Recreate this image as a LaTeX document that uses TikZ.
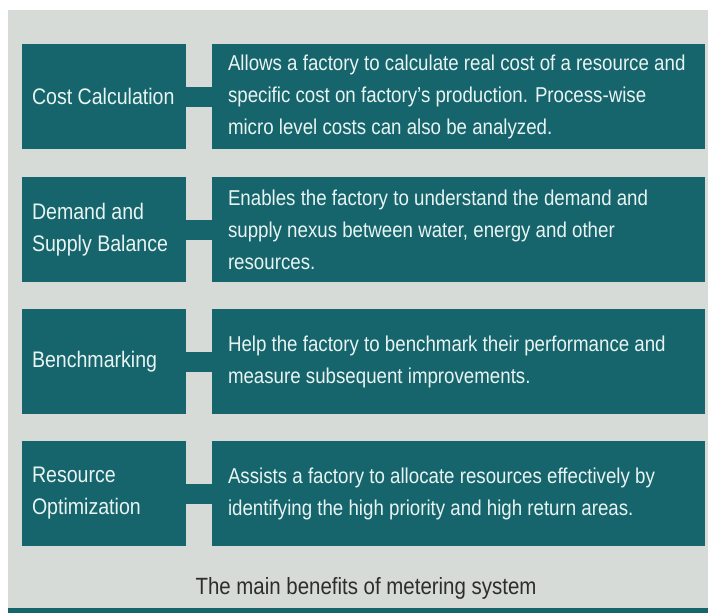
\documentclass[tikz,border=0pt]{standalone}
\usepackage{fontspec}
\setmainfont{Liberation Sans}[FakeStretch=0.87]
\usepackage{xcolor}
\definecolor{boxteal}{RGB}{22,101,108}
\definecolor{panelgray}{RGB}{214,219,215}
\definecolor{boxtext}{RGB}{232,244,242}
\definecolor{captext}{RGB}{45,45,45}

\begin{document}
\begin{tikzpicture}[x=1pt,y=-1pt,
		head/.style={fill=boxteal,text=boxtext,minimum height=105pt,text width=144pt,inner xsep=10pt,align=flush left,font=\fontsize{22.5}{32}\selectfont},
		info/.style={fill=boxteal,text=boxtext,minimum height=105pt,text width=461pt,inner xsep=16pt,align=flush left,font=\fontsize{21.5}{32}\selectfont},
		link/.style={boxteal,line width=20pt}]
		\useasboundingbox (0,0) rectangle (708,613);
		\fill[panelgray] (8,10) rectangle (708,613);
		\fill[boxteal] (8,608) rectangle (708,613);

		\node[head] at (104,96.5)(cost){Cost Calculation};
		\node[info] at (458.5,96.5)(costtxt){Allows a factory to calculate real cost of a resource and\\specific cost on factory’s production. Process-wise\\micro level costs can also be analyzed.};

		\node[head] at (104,229.5)(demand){Demand and\\Supply Balance};
		\node[info] at (458.5,229.5)(demandtxt){Enables the factory to understand the demand and\\supply nexus between water, energy and other\\resources.};

		\node[head] at (104,361.5)(bench){Benchmarking};
		\node[info] at (458.5,361.5)(benchtxt){Help the factory to benchmark their performance and\\measure subsequent improvements.};

		\node[head] at (104,493.5)(optim){Resource\\Optimization};
		\node[info] at (458.5,493.5)(optimtxt){Assists a factory to allocate resources effectively by\\identifying the high priority and high return areas.};

		\path[link](cost)edge(costtxt)(demand)edge(demandtxt)(bench)edge(benchtxt)(optim)edge(optimtxt);

		\node[text=captext,font=\fontsize{23.5}{28}\selectfont] at (366,588)(caption){The main benefits of metering system};
	\end{tikzpicture}
\end{document}
